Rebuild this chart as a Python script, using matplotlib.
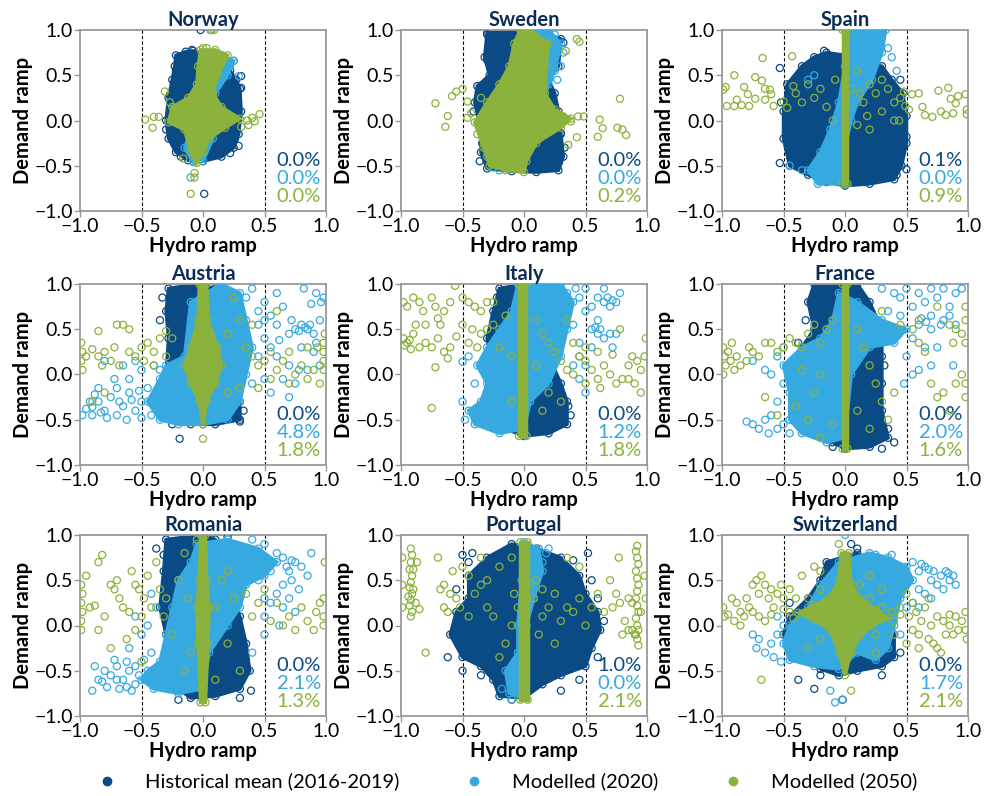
import matplotlib.pyplot as plt
import numpy as np
from matplotlib.lines import Line2D
from matplotlib.ticker import FuncFormatter

plt.rcParams['font.family'] = ['Lato', 'DejaVu Sans']

NAVY = '#0a4a85'
BLUE = '#36a9e1'
GREEN = '#8bb23c'
TITLE_COL = '#0b2d55'

countries = ['Norway', 'Sweden', 'Spain', 'Austria', 'Italy', 'France',
             'Romania', 'Portugal', 'Switzerland']
series_names = ['Historical mean (2016-2019)', 'Modelled (2020)', 'Modelled (2050)']
pct_hist = [0.0, 0.0, 0.1, 0.0, 0.0, 0.0, 0.0, 1.0, 0.0]
pct_2020 = [0.0, 0.0, 0.0, 4.8, 1.2, 2.0, 2.1, 0.0, 1.7]
pct_2050 = [0.0, 0.2, 0.9, 1.8, 1.8, 1.6, 1.3, 2.1, 2.1]

# (hydro ramp, demand ramp) - "core" = outline of the dense part of a cloud,
# "pts" = the looser points around it

# Norway
norway_hist_core = [(-0.22, 0.72), (-0.14, 0.76), (-0.08, 0.77), (0.05, 0.72), (0.15, 0.72), (0.22, 0.55),
                    (0.27, 0.45), (0.3, 0.35), (0.31, 0.1), (0.29, -0.15), (0.25, -0.3), (0.15, -0.4),
                    (0.0, -0.45), (-0.12, -0.44), (-0.22, -0.35), (-0.28, -0.2), (-0.3, 0.0), (-0.28, 0.25),
                    (-0.25, 0.45), (-0.23, 0.6)]
norway_hist_pts = [(0.01, -0.81), (-0.02, 1.0), (0.22, -0.36), (0.29, -0.28), (-0.14, 0.69), (-0.09, 0.78),
                   (-0.22, 0.55), (0.31, 0.49), (0.31, 0.36), (-0.27, 0.28), (-0.3, -0.1), (0.26, -0.2),
                   (-0.18, -0.4)]
norway_2020_core = [(0.0, 0.72), (0.12, 0.74), (0.25, 0.66), (0.2, 0.5), (0.1, 0.3), (0.06, 0.0), (0.08, -0.2),
                    (0.0, -0.45), (-0.08, -0.46), (-0.15, -0.3), (-0.06, 0.0), (-0.03, 0.4)]
norway_2020_pts = [(-0.1, -0.63), (0.25, 0.66), (0.29, 0.49), (0.06, 1.0), (-0.08, -0.45), (0.22, 0.6)]
norway_2050_core = [(-0.02, 0.78), (0.1, 0.78), (0.2, 0.72), (0.12, 0.5), (0.08, 0.3), (0.15, 0.15), (0.3, 0.02),
                    (0.18, -0.08), (0.05, -0.2), (0.0, -0.35), (-0.05, -0.47), (-0.1, -0.35), (-0.15, -0.1),
                    (-0.28, -0.02), (-0.25, 0.15), (-0.12, 0.25), (-0.05, 0.4), (-0.04, 0.6)]
norway_2050_pts = [(-0.47, 0.01), (-0.4, 0.04), (-0.36, 0.04), (-0.41, -0.08), (-0.31, 0.32), (-0.22, 0.0),
                   (0.46, 0.07), (0.42, -0.01), (0.36, 0.0), (0.37, -0.05), (0.31, -0.07), (0.4, 0.03),
                   (-0.16, -0.42), (-0.07, -0.58), (-0.07, -0.63), (-0.1, -0.81), (0.07, 1.0), (0.09, 1.0),
                   (-0.27, 0.2), (0.0, 0.8), (0.03, 0.8)]

# Sweden
sweden_hist_core = [(-0.3, 0.97), (-0.1, 1.0), (0.1, 1.0), (0.3, 0.9), (0.28, 0.6), (0.2, 0.45), (0.25, 0.3),
                    (0.28, 0.1), (0.3, -0.15), (0.32, -0.4), (0.28, -0.55), (0.1, -0.57), (-0.1, -0.56),
                    (-0.3, -0.53), (-0.35, -0.35), (-0.35, -0.1), (-0.4, 0.2), (-0.38, 0.38), (-0.28, 0.5),
                    (-0.32, 0.7)]
sweden_hist_pts = [(-0.34, 0.36), (-0.33, 0.26), (-0.34, -0.25), (-0.3, 0.95), (-0.3, 0.67), (0.28, -0.47),
                   (0.32, 0.86), (0.3, -0.14), (-0.36, -0.45), (0.33, -0.3), (-0.41, 0.1)]
sweden_2020_core = [(0.0, 1.0), (0.2, 1.0), (0.3, 0.85), (0.25, 0.55), (0.2, 0.4), (0.15, 0.2), (0.05, 0.0),
                    (0.0, 0.5)]
sweden_2020_pts = [(0.3, 0.6), (0.27, 0.45), (0.32, 0.75), (-0.25, -0.52), (-0.2, -0.55), (0.25, 0.95),
                   (-0.3, -0.4)]
sweden_2050_core = [(-0.03, 1.0), (0.05, 1.0), (0.2, 0.85), (0.18, 0.6), (0.17, 0.3), (0.25, 0.12), (0.38, 0.02),
                    (0.3, -0.08), (0.1, -0.25), (0.02, -0.45), (0.0, -0.57), (-0.15, -0.55), (-0.28, -0.5),
                    (-0.33, -0.3), (-0.4, -0.02), (-0.3, 0.2), (-0.2, 0.4), (-0.12, 0.6), (-0.08, 0.85)]
sweden_2050_pts = [(-0.72, 0.19), (-0.62, 0.05), (-0.64, -0.07), (-0.585, 0.27), (-0.55, 0.32), (-0.5, 0.35),
                   (-0.46, 0.21), (-0.46, 0.03), (-0.43, 0.08), (0.44, 0.045), (0.485, 0.045), (0.43, -0.185),
                   (0.36, -0.27), (0.43, 0.9), (0.45, 0.87), (0.34, 0.77), (0.615, 0.01), (0.64, -0.085),
                   (0.6, -0.18), (0.76, -0.08), (0.8, -0.1), (0.83, -0.16), (0.78, 0.24), (0.38, -0.01),
                   (0.32, 0.045), (-0.38, -0.15), (-0.35, 0.25)]

# Spain
spain_hist_core = [(-0.15, 0.75), (0.0, 0.72), (0.1, 0.65), (0.3, 0.6), (0.38, 0.45), (0.47, 0.3), (0.5, 0.05),
                   (0.5, -0.25), (0.46, -0.5), (0.4, -0.65), (0.2, -0.7), (0.0, -0.72), (-0.15, -0.68),
                   (-0.3, -0.6), (-0.45, -0.5), (-0.5, -0.2), (-0.5, 0.1), (-0.47, 0.4), (-0.35, 0.6),
                   (-0.25, 0.7)]
spain_hist_pts = [(-0.53, 0.58), (-0.53, -0.47), (0.5, -0.54), (0.5, -0.18), (-0.17, 0.77), (0.45, 0.45),
                  (-0.52, 0.2), (0.42, -0.6), (0.05, 0.9), (0.1, 1.0)]
spain_2020_core = [(0.0, 1.0), (0.33, 1.0), (0.3, 0.75), (0.22, 0.45), (0.1, 0.2), (0.05, 0.0), (0.0, -0.3),
                   (0.0, -0.7), (-0.22, -0.7), (-0.3, -0.55), (-0.2, -0.35), (-0.12, -0.1), (-0.05, 0.2),
                   (0.0, 0.6)]
spain_2020_pts = [(0.35, 0.8), (0.38, 0.7), (-0.35, -0.55), (-0.3, 0.45), (-0.25, 0.5), (0.3, 0.95),
                  (-0.45, -0.5), (0.42, 0.55)]
spain_2050_core = [(-0.02, 1.0), (0.02, 1.0), (0.02, -0.7), (-0.02, -0.7)]
spain_2050_pts = [(-0.99, 0.34), (-0.97, 0.37), (-0.9, 0.5), (-0.96, 0.16), (-0.9, 0.16), (-0.84, 0.17),
                  (-0.78, 0.16), (-0.73, 0.24), (-0.67, 0.69), (-0.73, 0.48), (-0.675, 0.44), (-0.65, 0.35),
                  (-0.61, 0.34), (-0.6, 0.29), (-0.65, 0.23), (-0.58, 0.16), (-0.5, 0.21), (-0.47, 0.14),
                  (-0.43, 0.71), (-0.42, 0.38), (-0.82, 0.37), (-0.79, 0.29), (-0.88, 0.23),
                  (0.48, 0.32), (0.545, 0.29), (0.6, 0.3), (0.63, 0.15), (0.65, 0.06), (0.71, 0.04),
                  (0.76, 0.33), (0.84, 0.36), (0.86, 0.24), (0.9, 0.19), (0.92, 0.27), (0.98, 0.29),
                  (0.99, 0.12), (0.99, 0.07), (0.78, 0.1), (0.82, 0.06), (0.88, 0.08), (0.52, 0.12),
                  (0.44, 0.0), (0.49, 0.16),
                  (0.2, 0.4), (0.25, 0.3), (0.35, 0.35), (0.15, 0.2), (0.3, 0.1), (0.4, 0.2), (-0.2, 0.35),
                  (-0.25, 0.25), (-0.35, 0.2), (-0.15, 0.15), (-0.3, 0.4), (0.1, -0.05), (0.2, -0.1),
                  (0.45, 0.25), (-0.1, 0.0), (0.05, 0.35), (0.4, 0.0), (0.3, 0.45), (-0.4, 0.3), (0.1, 0.55),
                  (0.12, 0.3), (-0.08, 0.45), (0.18, 0.05)]

# Austria
austria_hist_core = [(-0.28, 0.95), (-0.05, 1.0), (0.1, 0.95), (0.15, 0.6), (0.2, 0.3), (0.28, 0.0), (0.3, -0.3),
                     (0.3, -0.5), (0.1, -0.55), (-0.1, -0.55), (-0.25, -0.5), (-0.32, -0.3), (-0.3, 0.0),
                     (-0.28, 0.4), (-0.3, 0.7)]
austria_hist_pts = [(-0.19, -0.71), (-0.33, 0.85), (-0.25, -0.55), (0.3, -0.52), (0.33, -0.4), (-0.35, 0.6)]
austria_2020_core = [(-0.1, 0.8), (0.15, 1.0), (0.3, 0.9), (0.35, 0.6), (0.4, 0.3), (0.35, 0.0), (0.3, -0.3),
                     (0.2, -0.5), (0.0, -0.55), (-0.2, -0.55), (-0.35, -0.5), (-0.45, -0.3), (-0.35, -0.05),
                     (-0.3, 0.1), (-0.15, 0.2)]
austria_2020_pts = [(-0.95, -0.38), (-0.9, -0.45), (-0.85, -0.3), (-0.8, -0.4), (-0.75, -0.25), (-0.7, -0.45),
                    (-0.65, -0.35), (-0.6, -0.2), (-0.55, -0.4), (-0.5, -0.3), (-0.45, -0.15), (-0.42, -0.45),
                    (-0.7, -0.15), (-0.88, -0.22), (-0.98, -0.45), (-0.6, -0.05), (-0.5, 0.05), (-0.4, 0.1),
                    (-0.65, 0.1), (-0.8, 0.15), (-0.55, 0.15), (-0.35, 0.05), (-0.72, -0.05), (-0.92, -0.3),
                    (-0.78, -0.48), (-0.62, -0.5), (-0.5, -0.48), (-0.85, -0.15), (-0.4, -0.35),
                    (-0.9, -0.36), (-0.83, -0.42), (-0.68, -0.3), (-0.58, -0.28), (-0.52, -0.18),
                    (0.35, 0.85), (0.4, 0.95), (0.45, 0.7), (0.5, 0.8), (0.55, 0.65), (0.6, 0.55), (0.65, 0.75),
                    (0.7, 0.45), (0.72, 0.6), (0.75, 0.5), (0.8, 0.55), (0.85, 0.5), (0.9, 0.45), (0.95, 0.6),
                    (0.98, 0.85), (0.92, 0.9), (0.82, 0.95), (0.88, 0.78), (0.6, 0.9), (0.5, 0.4), (0.55, 0.3),
                    (0.45, 0.2), (0.6, 0.2), (0.7, 0.1), (0.8, 0.3), (0.9, 0.25), (0.95, 0.1), (0.65, -0.05),
                    (0.75, -0.1), (0.85, 0.05), (0.5, -0.05), (0.4, -0.1), (0.55, -0.2), (0.7, -0.25),
                    (0.45, 0.55), (0.78, 0.05), (0.92, 0.35), (0.62, 0.38), (0.5, 0.6), (0.83, 0.52),
                    (0.87, 0.55), (0.78, 0.48), (0.96, 0.8)]
austria_2050_core = [(-0.03, 1.0), (0.03, 1.0), (0.04, 0.6), (0.12, 0.3), (0.15, 0.1), (0.1, -0.1), (0.03, -0.3),
                     (0.0, -0.55), (-0.03, -0.3), (-0.1, -0.1), (-0.15, 0.1), (-0.1, 0.3), (-0.04, 0.6)]
austria_2050_pts = [(-0.99, 0.35), (-0.98, 0.25), (-0.99, 0.15), (-0.98, 0.05), (-0.95, 0.2), (-0.9, 0.28),
                    (-0.85, 0.2), (-0.82, 0.1), (-0.8, 0.25), (-0.75, 0.15), (-0.72, 0.3), (-0.7, 0.55),
                    (-0.65, 0.55), (-0.6, 0.5), (-0.85, 0.48), (-0.6, 0.25), (-0.55, 0.2), (-0.5, 0.3),
                    (-0.48, 0.15), (-0.45, 0.35), (-0.4, 0.25), (-0.35, 0.4), (-0.3, 0.48), (-0.4, 0.1),
                    (-0.68, 0.1), (-0.9, -0.3), (-0.8, -0.2), (-0.25, 0.4), (-0.3, 0.2),
                    (0.25, 0.85), (0.35, 0.3), (0.4, 0.2), (0.45, 0.1), (0.5, 0.15), (0.55, 0.25), (0.6, 0.05),
                    (0.65, 0.15), (0.7, 0.25), (0.75, 0.0), (0.8, 0.1), (0.85, -0.05), (0.9, 0.05),
                    (0.95, -0.1), (0.98, 0.05), (0.98, 0.15), (0.98, 0.25), (0.98, 0.35), (0.99, 0.45),
                    (0.93, 0.3), (0.7, -0.1), (0.55, -0.05), (0.45, -0.15), (0.85, 0.3), (0.3, 0.6),
                    (0.3, -0.15), (0.2, -0.2), (0.2, 0.45), (0.6, 0.7), (0.4, 0.55), (0.0, -0.71)]

# Italy
italy_hist_core = [(-0.2, 0.95), (0.0, 1.0), (0.25, 1.0), (0.2, 0.8), (0.15, 0.5), (0.2, 0.2), (0.3, -0.1),
                   (0.35, -0.3), (0.35, -0.55), (0.2, -0.65), (0.0, -0.68), (-0.15, -0.6), (-0.2, -0.3),
                   (-0.25, 0.0), (-0.3, 0.4), (-0.25, 0.7)]
italy_hist_pts = [(0.38, -0.45), (0.36, -0.35), (-0.3, 0.2), (0.28, 0.95), (-0.22, 0.85)]
italy_2020_core = [(-0.05, 1.0), (0.3, 1.0), (0.4, 0.8), (0.35, 0.5), (0.3, 0.2), (0.2, -0.1), (0.05, -0.3),
                   (0.0, -0.6), (-0.2, -0.65), (-0.4, -0.55), (-0.45, -0.4), (-0.35, -0.3), (-0.3, -0.1),
                   (-0.38, 0.1), (-0.3, 0.3), (-0.2, 0.5), (-0.1, 0.7)]
italy_2020_pts = [(0.35, 0.9), (0.45, 0.85), (0.5, 0.7), (0.55, 0.75), (0.6, 0.85), (0.65, 0.8), (0.7, 0.75),
                  (0.75, 0.8), (0.65, 0.95), (0.5, 0.95), (0.55, 0.5), (0.6, 0.45), (0.65, 0.4), (0.7, 0.45),
                  (0.72, 0.3), (0.55, 0.3), (0.45, 0.35), (0.45, 0.2), (0.4, 0.1), (0.5, 0.1), (0.5, -0.2),
                  (0.4, 0.55), (0.6, 0.6), (0.75, 0.45), (-0.5, 0.14), (-0.5, -0.3), (-0.48, -0.5),
                  (-0.4, -0.1), (-0.45, 0.2), (0.45, -0.05), (0.35, 0.65), (0.78, 0.9), (0.42, 0.95),
                  (0.68, 0.85), (0.72, 0.82), (0.58, 0.52), (0.62, 0.5)]
italy_2050_core = [(-0.04, 1.0), (0.02, 1.0), (0.02, -0.68), (-0.04, -0.68)]
italy_2050_pts = [(-0.98, 0.8), (-0.95, 0.75), (-0.9, 0.85), (-0.85, 0.8), (-0.82, 0.7), (-0.8, 0.55),
                  (-0.75, 0.85), (-0.72, 0.75), (-0.68, 0.55), (-0.65, 0.7), (-0.6, 0.8), (-0.56, 0.98),
                  (-0.5, 0.85), (-0.45, 0.8), (-0.4, 0.75), (-0.35, 0.7), (-0.3, 0.8), (-0.98, 0.4),
                  (-0.95, 0.35), (-0.92, 0.28), (-0.9, 0.45), (-0.85, 0.3), (-0.8, 0.35), (-0.75, 0.3),
                  (-0.7, 0.4), (-0.65, 0.25), (-0.6, 0.3), (-0.55, 0.42), (-0.5, 0.55), (-0.45, 0.35),
                  (-0.42, 0.5), (-0.38, 0.3), (-0.35, 0.45), (-0.3, 0.5), (-0.25, 0.55), (-0.2, 0.3),
                  (-0.62, 0.18), (-0.72, 0.08), (-0.75, -0.37), (-0.88, 0.55), (-0.7, 0.62), (-0.25, 0.8),
                  (-0.15, 0.65), (-0.97, 0.32), (-0.93, 0.38),
                  (0.15, 0.45), (0.2, 0.35), (0.25, 0.25), (0.3, 0.15), (0.35, 0.05), (0.4, 0.0), (0.45, 0.2),
                  (0.5, 0.15), (0.55, 0.05), (0.6, -0.05), (0.65, 0.1), (0.7, 0.0), (0.75, -0.1), (0.8, -0.05),
                  (0.85, 0.1), (0.88, 0.2), (0.92, 0.15), (0.95, 0.05), (0.98, 0.2), (0.99, 0.4), (0.9, -0.1),
                  (0.95, -0.2), (0.85, -0.05), (0.78, 0.5), (0.72, 0.22), (0.6, 0.25), (0.5, 0.3), (0.4, 0.35),
                  (0.3, -0.3), (0.2, -0.2), (0.1, 0.1), (0.62, -0.15), (0.35, 0.6), (0.5, -0.1),
                  (0.1, 0.6), (-0.1, 0.2), (0.15, -0.4), (-0.1, -0.3)]

# France
france_hist_core = [(-0.25, 1.0), (0.1, 1.0), (0.2, 0.8), (0.3, 0.5), (0.3, 0.2), (0.3, -0.1), (0.3, -0.4),
                    (0.35, -0.7), (0.2, -0.8), (0.0, -0.82), (-0.1, -0.75), (-0.15, -0.5), (-0.3, -0.2),
                    (-0.4, 0.1), (-0.35, 0.3), (-0.25, 0.5), (-0.3, 0.8)]
france_hist_pts = [(0.4, -0.75), (0.35, -0.6), (-0.32, 0.6), (-0.38, 0.35), (0.32, 0.1), (0.3, -0.82),
                   (-0.1, -0.8)]
france_2020_core = [(-0.05, 0.9), (0.1, 0.8), (0.3, 0.6), (0.5, 0.5), (0.4, 0.35), (0.2, 0.3), (0.05, 0.0),
                    (0.0, -0.7), (-0.15, -0.75), (-0.35, -0.65), (-0.45, -0.5), (-0.45, -0.2), (-0.5, 0.1),
                    (-0.35, 0.3), (-0.2, 0.4), (-0.1, 0.6)]
france_2020_pts = [(-0.75, -0.55), (-0.7, -0.6), (-0.65, -0.5), (-0.6, -0.45), (-0.55, -0.6), (-0.5, -0.55),
                   (-0.62, -0.65), (-0.8, -0.52), (-0.55, -0.3), (-0.5, -0.1), (-0.6, 0.0), (-0.65, 0.05),
                   (-0.55, 0.2), (-0.5, 0.3), (-0.75, 0.15), (-0.45, -0.65), (0.35, 0.7), (0.45, 0.85),
                   (0.5, 0.95), (0.55, 0.75), (0.6, 0.9), (0.65, 0.8), (0.7, 0.65), (0.75, 0.85), (0.8, 0.95),
                   (0.85, 0.75), (0.9, 0.9), (0.95, 0.95), (0.6, 0.55), (0.7, 0.5), (0.8, 0.6), (0.9, 0.55),
                   (0.55, 0.4), (0.65, 0.3), (0.7, 0.1), (0.6, 0.05), (0.5, 0.2), (0.55, 0.0), (0.48, -0.1),
                   (0.45, 0.65), (0.75, 0.3), (0.85, 0.65), (0.3, 0.95), (0.4, 0.9), (0.88, 0.1), (0.7, 0.95),
                   (0.62, 0.62), (0.66, 0.58), (0.78, 0.55)]
france_2050_core = [(-0.02, 1.0), (0.02, 1.0), (0.02, -0.82), (-0.02, -0.82)]
france_2050_pts = [(-0.99, 0.3), (-0.98, 0.2), (-0.97, 0.1), (-0.99, 0.0), (-0.95, 0.25), (-0.93, 0.15),
                   (-0.92, 0.35), (-0.9, 0.05), (-0.88, 0.2), (-0.85, 0.1), (-0.8, 0.15), (-0.78, 0.3),
                   (-0.75, 0.25), (-0.7, 0.2), (-0.65, 0.35), (-0.6, 0.35), (-0.55, 0.25), (-0.5, 0.3),
                   (-0.45, 0.4), (-0.4, 0.35), (-0.35, 0.3), (-0.3, 0.45), (-0.25, 0.55), (-0.2, 0.35),
                   (-0.15, 0.5), (-0.1, 0.6), (-0.2, 0.0), (-0.25, -0.2), (-0.3, -0.5), (-0.4, -0.35),
                   (-0.65, -0.25), (-0.55, -0.45), (-0.35, 0.05), (0.1, 0.5), (0.15, 0.3), (0.2, 0.1),
                   (0.25, -0.1), (0.3, -0.3), (0.35, -0.5), (0.3, 0.7), (0.45, 0.55), (0.55, 0.5),
                   (0.6, 0.35), (0.65, 0.25), (0.7, -0.1), (0.75, -0.25), (0.8, -0.2), (0.85, 0.55),
                   (0.9, 0.5), (0.95, 0.45), (0.98, 0.6), (0.98, 0.75), (0.98, 0.35), (0.98, -0.1),
                   (0.98, -0.25), (0.9, -0.1), (0.85, -0.4), (0.95, 0.0), (0.6, 0.6), (0.75, 0.75),
                   (0.88, 0.35), (0.4, -0.2), (0.2, -0.6), (0.1, -0.4), (-0.1, -0.55), (-0.2, -0.7)]

# Romania
romania_hist_core = [(-0.3, 0.95), (0.0, 1.0), (0.1, 0.95), (0.15, 0.7), (0.2, 0.4), (0.3, 0.1), (0.35, -0.2),
                     (0.38, -0.5), (0.3, -0.7), (0.1, -0.78), (-0.1, -0.8), (-0.2, -0.7), (-0.2, -0.4),
                     (-0.3, -0.1), (-0.35, 0.2), (-0.32, 0.6)]
romania_hist_pts = [(0.39, -0.72), (0.3, -0.8), (-0.38, 0.85), (-0.32, 0.78), (0.2, 0.98), (-0.2, -0.82)]
romania_2020_core = [(-0.05, 0.9), (0.2, 0.95), (0.45, 0.85), (0.6, 0.7), (0.5, 0.55), (0.35, 0.45), (0.3, 0.2),
                     (0.2, 0.0), (0.05, -0.3), (0.0, -0.7), (-0.2, -0.75), (-0.4, -0.7), (-0.5, -0.6),
                     (-0.45, -0.5), (-0.35, -0.4), (-0.3, -0.1), (-0.25, 0.2), (-0.2, 0.5), (-0.1, 0.7)]
romania_2020_pts = [(-0.9, -0.72), (-0.85, -0.6), (-0.8, -0.5), (-0.78, -0.68), (-0.75, -0.55), (-0.7, -0.45),
                    (-0.68, -0.7), (-0.65, -0.6), (-0.62, -0.4), (-0.6, -0.5), (-0.58, -0.72), (-0.55, -0.45),
                    (-0.52, -0.55), (-0.48, -0.38), (-0.45, -0.6), (-0.42, -0.3), (-0.4, -0.5), (-0.88, -0.45),
                    (-0.72, -0.38), (-0.5, -0.1), (-0.45, 0.0), (-0.55, 0.1), (-0.38, 0.2), (-0.42, 0.35),
                    (-0.6, -0.25), (-0.82, -0.62), (-0.7, -0.6), (-0.62, -0.68), (-0.55, -0.65),
                    (0.4, 0.95), (0.5, 0.9), (0.55, 0.6), (0.6, 0.8), (0.65, 0.75), (0.7, 0.6), (0.72, 0.5),
                    (0.75, 0.7), (0.8, 0.65), (0.85, 0.55), (0.88, 0.8), (0.65, 0.45), (0.6, 0.35), (0.55, 0.25),
                    (0.5, 0.3), (0.65, 0.2), (0.7, 0.3), (0.45, 0.5), (0.4, 0.7), (0.78, 0.4), (0.5, 0.1),
                    (0.62, 0.0), (0.5, -0.1), (0.4, -0.3), (0.75, 0.15), (0.68, 0.65), (0.72, 0.72)]
romania_2050_core = [(-0.02, 1.0), (0.02, 1.0), (0.03, 0.5), (0.05, 0.2), (0.04, -0.2), (0.02, -0.85),
                     (-0.02, -0.85), (-0.04, -0.2), (-0.05, 0.2), (-0.03, 0.5)]
romania_2050_pts = [(-0.99, 0.45), (-0.98, 0.35), (-0.99, 0.25), (-0.98, 0.15), (-0.99, 0.05), (-0.99, -0.05),
                    (-0.95, 0.55), (-0.92, 0.2), (-0.88, 0.22), (-0.85, 0.7), (-0.82, 0.78), (-0.8, 0.1),
                    (-0.75, 0.45), (-0.72, 0.4), (-0.7, 0.5), (-0.68, 0.3), (-0.65, 0.2), (-0.6, 0.15),
                    (-0.58, 0.6), (-0.55, 0.45), (-0.52, 0.4), (-0.5, 0.1), (-0.48, 0.3), (-0.45, 0.55),
                    (-0.42, 0.2), (-0.38, 0.7), (-0.35, 0.4), (-0.32, 0.1), (-0.3, 0.3), (-0.25, -0.1),
                    (-0.2, 0.5), (-0.15, 0.8), (-0.12, 0.3), (-0.1, -0.3), (-0.15, -0.5), (-0.75, -0.25),
                    (-0.85, -0.05), (-0.62, -0.15), (-0.55, -0.05), (-0.5, -0.4), (0.1, 0.2), (0.15, 0.5),
                    (0.2, -0.2), (0.25, 0.3), (0.3, -0.5), (0.35, 0.35), (0.4, 0.1), (0.45, 0.25), (0.5, 0.4),
                    (0.55, 0.05), (0.6, 0.25), (0.65, 0.0), (0.7, 0.1), (0.75, -0.05), (0.8, 0.2), (0.85, 0.05),
                    (0.9, -0.05), (0.92, 0.15), (0.95, 0.25), (0.98, 0.0), (0.98, 0.1), (0.98, 0.3),
                    (0.99, 0.7), (0.1, -0.6), (0.2, 0.6), (-0.05, 0.95)]

# Portugal
portugal_hist_core = [(-0.1, 0.9), (0.1, 0.85), (0.3, 0.75), (0.45, 0.55), (0.5, 0.35), (0.6, 0.15),
                      (0.62, -0.05), (0.55, -0.25), (0.5, -0.45), (0.3, -0.55), (0.15, -0.65), (0.0, -0.8),
                      (-0.2, -0.78), (-0.25, -0.6), (-0.35, -0.45), (-0.5, -0.35), (-0.6, -0.1), (-0.55, 0.15),
                      (-0.45, 0.3), (-0.45, 0.55), (-0.3, 0.75)]
portugal_hist_pts = [(-0.5, -0.5), (-0.5, 0.78), (-0.42, 0.8), (-0.35, -0.55), (0.3, -0.72), (0.52, 0.8),
                     (0.45, -0.6), (0.65, 0.05), (0.6, -0.35), (-0.62, -0.35), (-0.1, -0.82), (0.6, 0.3),
                     (-0.55, 0.4), (-0.45, 0.7), (0.4, 0.72), (0.55, 0.5)]
portugal_2020_core = [(0.0, 0.92), (0.12, 0.85), (0.15, 0.6), (0.08, 0.3), (0.02, 0.0), (0.0, -0.3), (0.0, -0.8),
                      (-0.12, -0.75), (-0.15, -0.5), (-0.05, -0.3), (-0.05, 0.0), (-0.02, 0.5)]
portugal_2020_pts = [(0.18, 0.8), (0.15, 0.7), (-0.18, -0.7), (-0.1, -0.82), (0.2, 0.85)]
portugal_2050_core = [(-0.03, 0.92), (0.03, 0.92), (0.03, -0.82), (-0.03, -0.82)]
portugal_2050_pts = [(-0.92, 0.85), (-0.91, 0.78), (-0.92, 0.7), (-0.93, 0.62), (-0.91, 0.55), (-0.92, 0.48),
                     (-0.93, 0.42), (-0.91, 0.35), (-0.92, 0.28), (-0.93, 0.22), (-0.91, 0.15), (-0.92, 0.1),
                     (-0.9, 0.4), (-0.94, 0.32), (-0.9, 0.62), (-0.99, 0.75), (-0.99, 0.45), (-0.99, 0.2),
                     (-0.88, 0.25), (-0.85, 0.18), (-0.87, 0.7), (-0.8, -0.3), (-0.7, 0.75), (-0.68, 0.4),
                     (-0.65, 0.45), (-0.62, 0.15), (-0.6, 0.35), (-0.58, 0.6), (-0.55, 0.3), (-0.52, 0.2),
                     (-0.5, 0.65), (-0.45, 0.55), (-0.4, 0.35), (-0.35, 0.45), (-0.3, 0.2), (-0.25, 0.1),
                     (-0.45, 0.1), (-0.65, 0.2),
                     (0.92, 0.88), (0.91, 0.82), (0.92, 0.75), (0.93, 0.68), (0.91, 0.6), (0.92, 0.52),
                     (0.93, 0.45), (0.92, 0.38), (0.91, 0.3), (0.92, 0.22), (0.93, 0.15), (0.91, 0.08),
                     (0.92, 0.0), (0.93, -0.05), (0.91, -0.1), (0.92, -0.15), (0.93, -0.22), (0.95, 0.15),
                     (0.88, -0.05), (0.9, -0.1), (0.85, -0.05), (0.8, -0.1), (0.82, 0.05), (0.78, 0.25),
                     (0.75, 0.35), (0.72, 0.2), (0.85, 0.3), (0.77, 0.75), (0.88, 0.25), (0.99, 0.3),
                     (0.98, 0.55), (0.7, 0.5), (0.65, 0.15), (0.6, 0.35), (0.55, 0.2), (0.5, 0.0), (0.45, 0.3),
                     (0.4, 0.15), (0.35, 0.2), (0.3, 0.05), (0.25, 0.35), (0.2, 0.2), (0.15, 0.4), (0.1, 0.5),
                     (0.08, 0.3), (0.35, 0.75), (-0.2, -0.35), (-0.15, -0.2), (-0.1, 0.0), (-0.05, 0.2),
                     (0.05, 0.45), (-0.3, 0.5), (-0.2, 0.65), (-0.1, 0.75), (0.25, -0.2), (0.12, -0.1),
                     (-0.08, 0.35), (0.15, 0.1), (-0.35, 0.75), (0.45, 0.65)]

# Switzerland
switzerland_hist_core = [(-0.15, 0.7), (0.1, 0.8), (0.2, 0.7), (0.3, 0.45), (0.35, 0.2), (0.4, -0.1),
                         (0.4, -0.35), (0.3, -0.45), (0.1, -0.5), (-0.05, -0.55), (-0.2, -0.48), (-0.4, -0.3),
                         (-0.5, -0.1), (-0.45, 0.1), (-0.3, 0.3), (-0.2, 0.5)]
switzerland_hist_pts = [(0.1, 0.85), (-0.38, -0.6), (-0.2, -0.55), (-0.25, -0.7), (-0.02, -0.82), (0.05, 0.9),
                        (0.3, -0.55), (0.45, -0.3), (-0.45, 0.25)]
switzerland_2020_core = [(-0.05, 0.7), (0.2, 0.8), (0.35, 0.75), (0.5, 0.65), (0.55, 0.5), (0.45, 0.3),
                         (0.4, 0.0), (0.35, -0.25), (0.25, -0.38), (0.1, -0.3), (-0.05, -0.48), (-0.25, -0.45),
                         (-0.45, -0.38), (-0.5, -0.2), (-0.45, 0.0), (-0.3, 0.2), (-0.2, 0.45)]
switzerland_2020_pts = [(0.55, 0.7), (0.6, 0.6), (0.65, 0.65), (0.7, 0.5), (0.72, 0.6), (0.75, 0.45),
                        (0.78, 0.55), (0.8, 0.4), (0.82, 0.6), (0.85, 0.5), (0.88, 0.55), (0.9, 0.45),
                        (0.6, 0.4), (0.65, 0.35), (0.7, 0.3), (0.55, 0.25), (0.5, 0.2), (-0.55, -0.1),
                        (-0.6, -0.2), (-0.65, -0.3), (-0.7, -0.15), (-0.72, -0.25), (-0.58, -0.35),
                        (-0.52, -0.4), (-0.75, -0.1), (-0.5, 0.0), (-0.55, 0.1), (-0.12, -0.72), (-0.08, -0.85),
                        (-0.02, -0.82), (0.0, 1.0), (0.25, 0.78), (0.38, 0.78), (0.6, 0.2), (0.45, -0.1),
                        (0.68, 0.62), (0.84, 0.58), (0.62, 0.68)]
switzerland_2050_core = [(-0.03, 0.8), (0.03, 0.8), (0.05, 0.45), (0.12, 0.3), (0.25, 0.17), (0.35, 0.08),
                         (0.22, 0.0), (0.12, -0.12), (0.05, -0.3), (0.0, -0.55), (-0.05, -0.3), (-0.12, -0.05),
                         (-0.25, 0.06), (-0.38, 0.14), (-0.25, 0.22), (-0.12, 0.32), (-0.05, 0.5)]
switzerland_2050_pts = [(-0.99, 0.2), (-0.98, 0.1), (-0.95, 0.12), (-0.9, 0.05), (-0.88, 0.25), (-0.85, 0.15),
                        (-0.82, 0.1), (-0.8, 0.3), (-0.78, 0.2), (-0.75, 0.45), (-0.72, 0.5), (-0.7, 0.35),
                        (-0.68, 0.55), (-0.65, 0.45), (-0.62, 0.3), (-0.6, 0.4), (-0.58, 0.2), (-0.55, 0.35),
                        (-0.52, 0.45), (-0.5, 0.3), (-0.7, 0.1), (-0.65, 0.05), (-0.92, 0.3), (-0.85, 0.0),
                        (-0.75, 0.15), (-0.45, 0.4), (-0.4, 0.3), (-0.68, -0.6), (-0.6, 0.12),
                        (-0.45, 0.15), (-0.42, 0.08), (-0.5, 0.18), (0.4, 0.05), (0.45, 0.12), (0.38, 0.15),
                        (0.45, 0.2), (0.5, 0.35), (0.52, 0.1), (0.55, -0.05), (0.58, 0.15), (0.6, -0.1),
                        (0.62, 0.05), (0.65, 0.2), (0.68, -0.15), (0.7, 0.0), (0.72, -0.2), (0.75, -0.25),
                        (0.78, -0.3), (0.8, 0.05), (0.82, -0.1), (0.85, 0.0), (0.88, -0.1), (0.9, 0.1),
                        (0.92, -0.05), (0.95, 0.05), (0.98, 0.15), (0.98, -0.05), (0.99, -0.15), (0.85, 0.12),
                        (0.75, 0.1), (0.68, 0.3), (0.55, 0.25), (0.6, -0.25), (0.5, -0.2), (0.4, -0.1),
                        (0.12, 0.45), (0.2, 0.55), (-0.05, 0.9), (-0.2, 0.6), (-0.25, 0.65), (-0.35, 0.55),
                        (0.05, -0.72), (0.3, 0.4), (-0.3, -0.25), (0.25, -0.3), (0.2, 0.3), (-0.2, 0.4),
                        (0.25, -0.1), (-0.2, -0.15), (0.3, 0.2), (-0.3, 0.3)]

cores = {
    'Norway': [norway_hist_core, norway_2020_core, norway_2050_core],
    'Sweden': [sweden_hist_core, sweden_2020_core, sweden_2050_core],
    'Spain': [spain_hist_core, spain_2020_core, spain_2050_core],
    'Austria': [austria_hist_core, austria_2020_core, austria_2050_core],
    'Italy': [italy_hist_core, italy_2020_core, italy_2050_core],
    'France': [france_hist_core, france_2020_core, france_2050_core],
    'Romania': [romania_hist_core, romania_2020_core, romania_2050_core],
    'Portugal': [portugal_hist_core, portugal_2020_core, portugal_2050_core],
    'Switzerland': [switzerland_hist_core, switzerland_2020_core, switzerland_2050_core],
}
points = {
    'Norway': [norway_hist_pts, norway_2020_pts, norway_2050_pts],
    'Sweden': [sweden_hist_pts, sweden_2020_pts, sweden_2050_pts],
    'Spain': [spain_hist_pts, spain_2020_pts, spain_2050_pts],
    'Austria': [austria_hist_pts, austria_2020_pts, austria_2050_pts],
    'Italy': [italy_hist_pts, italy_2020_pts, italy_2050_pts],
    'France': [france_hist_pts, france_2020_pts, france_2050_pts],
    'Romania': [romania_hist_pts, romania_2020_pts, romania_2050_pts],
    'Portugal': [portugal_hist_pts, portugal_2020_pts, portugal_2050_pts],
    'Switzerland': [switzerland_hist_pts, switzerland_2020_pts, switzerland_2050_pts],
}
colors = [NAVY, BLUE, GREEN]

W, H = 985, 796
fig = plt.figure(figsize=(W / 100, H / 100), dpi=100)

col_left = [80, 401, 722]
row_top = [30, 284, 535]
ax_w, ax_h = 246, 181

fmt = FuncFormatter(lambda v, p: f'{v:.1f}'.replace('-', '\u2212'))

for i, country in enumerate(countries):
    r, c = divmod(i, 3)
    ax = fig.add_axes([col_left[c] / W, 1 - (row_top[r] + ax_h) / H, ax_w / W, ax_h / H])

    for k in range(3):
        col = colors[k]
        core = np.array(cores[country][k])
        ax.fill(core[:, 0], core[:, 1], color=col, lw=2.5, zorder=2 + 2 * k)
        ax.scatter(core[:, 0], core[:, 1], s=26, facecolors='none', edgecolors=col,
                   linewidths=0.9, zorder=2 + 2 * k)
        pts = np.array(points[country][k])
        ax.scatter(pts[:, 0], pts[:, 1], s=26, facecolors='none', edgecolors=col,
                   linewidths=0.9, zorder=3 + 2 * k)

    ax.axvline(-0.5, color='black', lw=0.8, ls=(0, (3, 2)), zorder=1)
    ax.axvline(0.5, color='black', lw=0.8, ls=(0, (3, 2)), zorder=1)

    ax.set_xlim(-1, 1)
    ax.set_ylim(-1, 1)
    ax.set_xticks([-1, -0.5, 0, 0.5, 1])
    ax.set_yticks([-1, -0.5, 0, 0.5, 1])
    ax.xaxis.set_major_formatter(fmt)
    ax.yaxis.set_major_formatter(fmt)
    ax.tick_params(labelsize=14, color='#999999', length=4, width=1, pad=1)
    for sp in ax.spines.values():
        sp.set_color('#999999')
        sp.set_linewidth(1.3)

    ax.set_title(country, fontsize=14.5, fontweight='bold', color=TITLE_COL, pad=2)
    ax.set_xlabel('Hydro ramp', fontsize=14.5, fontweight='bold', labelpad=1)
    ax.set_ylabel('Demand ramp', fontsize=14.5, fontweight='bold', labelpad=1)

    for val, yy, col in zip([pct_hist[i], pct_2020[i], pct_2050[i]], [0.28, 0.18, 0.08], colors):
        ax.text(0.98, yy, f'{val:.1f}%', transform=ax.transAxes, ha='right', va='center',
                color=col, fontsize=14.5, zorder=10)

handles = [Line2D([], [], ls='none', marker='o', markersize=6, color=col) for col in colors]
fig.legend(handles, series_names, loc='lower center', bbox_to_anchor=(0.515, -0.016), ncol=3,
           frameon=False, fontsize=14.5, handlelength=1.0, handletextpad=1.4, columnspacing=3.2)

fig.savefig('out.png', dpi=100)
